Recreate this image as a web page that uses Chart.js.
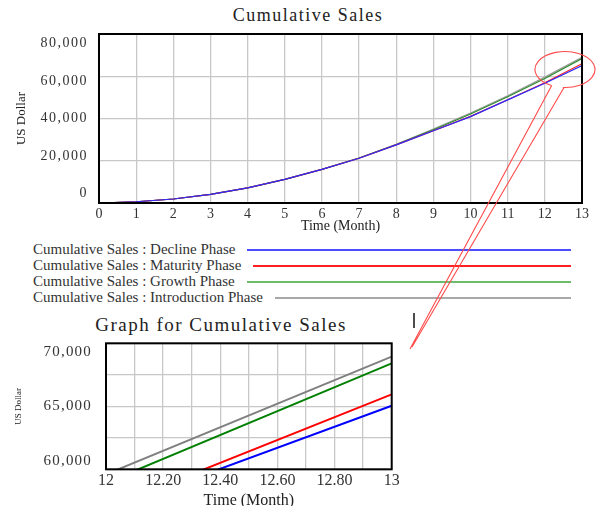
<!DOCTYPE html>
<html>
<head>
<meta charset="utf-8">
<script src="https://cdn.jsdelivr.net/npm/chart.js@4.4.1/dist/chart.umd.min.js"></script>
<style>
  body { margin: 0; background: #fff; width: 597px; height: 506px; overflow: hidden; position: relative; font-family: "Liberation Serif", "Times New Roman", serif; }
  canvas, .title, #legend { position: absolute; }
  .title { color: #222; text-align: center; letter-spacing: 1.5px; white-space: nowrap; }
  #legend { left: 33px; top: 241.5px; width: 538px; font-size: 15px; color: #333; }
  .row { display: flex; align-items: center; height: 16px; }
  .row span { white-space: nowrap; }
  .row div { flex: 1; margin-left: 12px; height: 2px; }
  #overlay { left: 0; top: 0; pointer-events: none; }
</style>
</head>
<body>
<div class="title" style="left:0;width:616px;top:5px;font-size:18px;line-height:20px;">Cumulative Sales</div>
<canvas id="mainChart" width="616" height="235" style="left:0;top:0;"></canvas>
<div id="legend"></div>
<div class="title" style="left:0;width:442px;top:314px;font-size:19px;line-height:22px;">Graph for Cumulative Sales</div>
<canvas id="zoomChart" width="442" height="199" style="left:0;top:310px;"></canvas>
<canvas id="overlay" width="597" height="506"></canvas>
<script>
// months 0..13, cumulative sales in US dollars
const months = [0, 1, 2, 3, 4, 5, 6, 7, 8, 9, 10, 11, 12, 13];
const declinePhase = [0, 600, 1900, 4100, 7200, 11200, 15900, 21200, 27500, 34200, 40900, 48800, 56700, 65050];
const maturityPhase = [0, 600, 1900, 4100, 7200, 11200, 15900, 21200, 27500, 34200, 41000, 48900, 56890, 65950];
const growthPhase = [0, 600, 1900, 4100, 7200, 11200, 15900, 21300, 27700, 34700, 42100, 50300, 58930, 68410];
const introductionPhase = [0, 600, 1900, 4100, 7200, 11200, 15900, 21300, 27800, 35000, 42600, 50800, 59600, 68940];

const seriesNames = [
  "Cumulative Sales : Decline Phase",
  "Cumulative Sales : Maturity Phase",
  "Cumulative Sales : Growth Phase",
  "Cumulative Sales : Introduction Phase",
];
const seriesValues = [declinePhase, maturityPhase, growthPhase, introductionPhase];
const mainColors = ["#2b2bff", "#ff1a1a", "#2a8a2a", "#9a9a9a"];
const zoomColors = ["#0000ff", "#ff0000", "#008000", "#808080"];
const legendColors = ["#4d4dff", "#ff2020", "#6dbb6d", "#a8a8a8"];

const serif = "'Liberation Serif', 'Times New Roman', serif";

// legend: text followed by a line
const legend = document.getElementById("legend");
seriesNames.forEach((name, i) => {
  const row = document.createElement("div");
  row.className = "row";
  row.innerHTML = `<span>${name}</span><div style="background:${legendColors[i]}"></div>`;
  legend.appendChild(row);
});

function makeDatasets(colors, width) {
  return seriesNames.map((name, i) => ({
    label: name,
    data: months.map((m, j) => ({ x: m, y: seriesValues[i][j] })),
    borderColor: colors[i],
    borderWidth: width,
    pointRadius: 0,
    tension: 0,
  }));
}

// black box round the plot
const frame = {
  id: "frame",
  afterDatasetsDraw(chart) {
    const { ctx, chartArea: a } = chart;
    ctx.save();
    ctx.strokeStyle = "#000";
    ctx.lineWidth = 2;
    ctx.strokeRect(a.left, a.top, a.right - a.left, a.bottom - a.top);
    ctx.restore();
  },
};

// y labels are drawn a bit squeezed toward the middle, like the original
const yLabels = {
  id: "yLabels",
  afterDraw(chart, args, opts) {
    const s = chart.scales.y, ctx = chart.ctx;
    const mid = (s.top + s.bottom) / 2;
    ctx.save();
    ctx.font = opts.font;
    ctx.fillStyle = "#333";
    ctx.textAlign = "right";
    ctx.textBaseline = "middle";
    ctx.letterSpacing = opts.spacing;
    s.ticks.forEach((t) => {
      if (t.value % opts.step !== 0) return;
      const y = mid + (s.getPixelForValue(t.value) - mid) * opts.factor;
      ctx.fillText(t.value.toLocaleString("en-US"), chart.chartArea.left - opts.pad, y);
    });
    ctx.restore();
  },
};

new Chart(document.getElementById("mainChart"), {
  type: "line",
  data: { datasets: makeDatasets(mainColors, 1.2) },
  plugins: [frame, yLabels],
  options: {
    responsive: false,
    animation: false,
    layout: { padding: { top: 34, right: 34, left: 0, bottom: 0 } },
    plugins: {
      legend: { display: false },
      tooltip: { enabled: false },
      yLabels: { font: "14px " + serif, spacing: "1.5px", step: 20000, factor: 0.89, pad: 11 },
    },
    scales: {
      x: {
        type: "linear",
        min: 0,
        max: 13,
        ticks: { stepSize: 1, padding: 3, color: "#333", font: { family: serif, size: 14 }, maxRotation: 0 },
        grid: { color: "#c8c8c8", lineWidth: 1.3, drawTicks: false },
        border: { display: false },
        title: { display: true, text: "Time (Month)", color: "#222", font: { family: serif, size: 14 }, padding: 0 },
        afterFit: (s) => { s.height = 32; },
      },
      y: {
        min: 0,
        max: 80000,
        ticks: { stepSize: 20000, display: false },
        grid: { color: "#c8c8c8", lineWidth: 1.3, drawTicks: false },
        border: { display: false },
        title: { display: true, text: "US Dollar", color: "#222", font: { family: serif, size: 13 }, padding: { top: 14, bottom: 0 } },
        afterFit: (s) => { s.width = 99; },
      },
    },
  },
});

new Chart(document.getElementById("zoomChart"), {
  type: "line",
  data: { datasets: makeDatasets(zoomColors, 2) },
  plugins: [frame, yLabels],
  options: {
    responsive: false,
    animation: false,
    layout: { padding: { top: 33.3, right: 50.3, left: 0, bottom: 0 } },
    plugins: {
      legend: { display: false },
      tooltip: { enabled: false },
      yLabels: { font: "15px " + serif, spacing: "1.2px", step: 5000, factor: 0.865, pad: 14 },
    },
    scales: {
      x: {
        type: "linear",
        min: 12,
        max: 13,
        ticks: {
          stepSize: 0.1,
          autoSkip: false,
          maxRotation: 0,
          padding: 2,
          color: "#333",
          font: { family: serif, size: 16 },
          callback: (v) => {
            const r = Math.round(v * 10);
            if (r % 2) return "";
            return r % 10 === 0 ? String(r / 10) : (r / 10).toFixed(2);
          },
        },
        grid: { color: "#c8c8c8", lineWidth: 1.3, drawTicks: false },
        border: { display: false },
        title: { display: true, text: "Time (Month)", color: "#222", font: { family: serif, size: 16, lineHeight: 1 }, padding: 0 },
        afterFit: (s) => { s.height = 39.7; },
      },
      y: {
        min: 60000,
        max: 70000,
        ticks: { stepSize: 2500, display: false },
        grid: { color: "#c8c8c8", lineWidth: 1.3, drawTicks: false },
        border: { display: false },
        title: { display: true, text: "US Dollar", color: "#222", font: { family: serif, size: 9 }, padding: { top: 13.6, bottom: 0 } },
        afterFit: (s) => { s.width = 106; },
      },
    },
  },
});

// red call-out from the top chart's end down to the zoomed graph
const ov = document.getElementById("overlay").getContext("2d");
ov.strokeStyle = "#ff4a4a";
ov.lineWidth = 1.1;
ov.beginPath();
ov.ellipse(565, 69.5, 30, 18, 0, 2.04, 1.64 + Math.PI * 2);
ov.stroke();
ov.beginPath();
ov.moveTo(551.7, 85.5);
ov.lineTo(410, 349);
ov.moveTo(564, 87.5);
ov.lineTo(412, 347);
ov.stroke();
ov.strokeStyle = "#000";
ov.lineWidth = 1.4;
ov.beginPath();
ov.moveTo(414, 313);
ov.lineTo(414, 328);
ov.stroke();
</script>
</body>
</html>
